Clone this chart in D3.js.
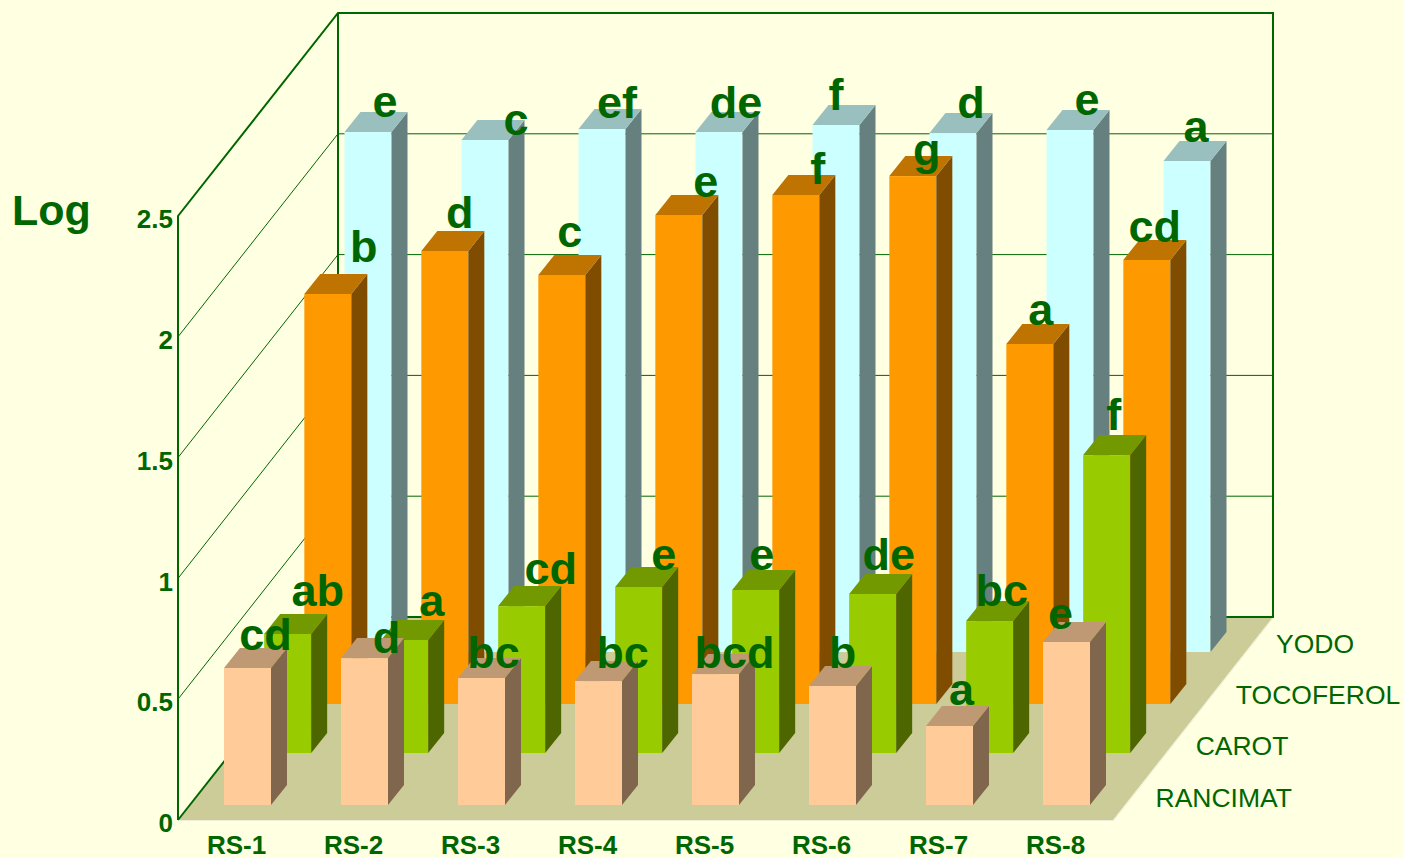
<!DOCTYPE html>
<html>
<head>
<meta charset="utf-8">
<script src="https://cdn.jsdelivr.net/npm/d3@7"></script>
<style>
  html, body { margin: 0; padding: 0; background: #FFFFE1; }
  svg { display: block; font-family: "Liberation Sans", Arial, sans-serif; }
</style>
</head>
<body>
<div id="chart"></div>
<script>
const w = 1403;
const h = 858;

const categories = ['RS-1', 'RS-2', 'RS-3', 'RS-4', 'RS-5', 'RS-6', 'RS-7', 'RS-8'];
const seriesNames = ['RANCIMAT', 'CAROT', 'TOCOFEROL', 'YODO'];
const yTicks = [0, 0.5, 1, 1.5, 2, 2.5];

const rancimat = [0.567, 0.608, 0.526, 0.513, 0.542, 0.493, 0.327, 0.675];
const carot = [0.493, 0.468, 0.608, 0.687, 0.675, 0.658, 0.546, 1.233];
const tocoferol = [1.697, 1.875, 1.776, 2.024, 2.107, 2.185, 1.490, 1.838];
const yodo = [2.152, 2.119, 2.165, 2.152, 2.181, 2.148, 2.161, 2.032];

const rancimatLetters = ['cd', 'd', 'bc', 'bc', 'bcd', 'b', 'a', 'e'];
const carotLetters = ['ab', 'a', 'cd', 'e', 'e', 'de', 'bc', 'f'];
const tocoferolLetters = ['b', 'd', 'c', 'e', 'f', 'g', 'a', 'cd'];
const yodoLetters = ['e', 'c', 'ef', 'de', 'f', 'd', 'e', 'a'];

// hand placed letter offsets from the centre of each bar's top
const rancimatNudge = [[10, 2], [14, 15], [4, 10], [16, 7], [11, 14], [2, 2], [4, -1], [-14, 7]];
const carotNudge = [[22, -8], [19, -4], [21, -2], [17, 3], [-2, 0], [8, -4], [4, 5], [-1, -5]];
const tocoferolNudge = [[28, -12], [7, -3], [0, -8], [19, 2], [14, 9], [6, 9], [3, 1], [0, 2]];
const yodoNudge = [[9, 5], [23, 15], [7, 9], [9, 6], [-8, 5], [10, 5], [9, 5], [1, 1]];

const seriesRows = [
    { name: 'RANCIMAT', values: rancimat, letters: rancimatLetters, nudge: rancimatNudge, front: '#FFCC99', top: '#BF9973', side: '#80664D' },
    { name: 'CAROT', values: carot, letters: carotLetters, nudge: carotNudge, front: '#99CC00', top: '#739900', side: '#4D6600' },
    { name: 'TOCOFEROL', values: tocoferol, letters: tocoferolLetters, nudge: tocoferolNudge, front: '#FF9900', top: '#BF7300', side: '#804C00' },
    { name: 'YODO', values: yodo, letters: yodoLetters, nudge: yodoNudge, front: '#CCFFFF', top: '#99BFBF', side: '#668080' }
];

const green = '#006600';

// box corners on screen
const left = 178;
const bottom = 820;
const boxDx = 160;
const boxDy = 203;
const boxWidth = 935;

const barW = 47;
const sideDx = 16;
const sideDy = 20;
const rowGap = bottom - 805;

const yScale = d3.scaleLinear().domain([0, 2.5]).range([bottom, 216]);
const xScale = d3.scalePoint().domain(categories).range([224, 1043]);
const rowX = d3.scalePoint().domain(seriesNames).range([0, 120.5]);
const rowY = d3.scaleOrdinal().domain(seriesNames).range([0, 52, 101, 153]);
const nameY = d3.scalePoint().domain(seriesNames).range([806.5, 652.5]);

const barHeight = v => bottom - yScale(v);
const line = d3.line();

const svg = d3.select('#chart').append('svg')
    .attr('width', w)
    .attr('height', h);

// floor
svg.append('polygon')
    .attr('points', [[left, bottom], [left + boxDx, bottom - boxDy], [left + boxDx + boxWidth, bottom - boxDy], [left + boxWidth, bottom]].join(' '))
    .attr('fill', '#CCCC99');

svg.append('path')
    .attr('fill', 'none')
    .attr('stroke', '#EDEDD8')
    .attr('stroke-width', 1)
    .attr('d', line([[left + 2, bottom + 0.5], [left + boxWidth + 0.5, bottom + 0.5], [left + boxDx + boxWidth + 0.5, bottom - boxDy + 0.5]]));

// walls
const grid = svg.append('g').attr('fill', 'none').attr('stroke', green);

grid.selectAll('path.grid')
    .data(yTicks.slice(1, -1))
    .enter()
    .append('path')
    .attr('class', 'grid')
    .attr('stroke-width', 1)
    .attr('d', d => line([
        [left, yScale(d)],
        [left + boxDx, yScale(d) - boxDy],
        [left + boxDx + boxWidth, yScale(d) - boxDy]
    ]));

const topY = yScale(2.5);
grid.append('path')
    .attr('stroke-width', 2)
    .attr('d', line([
        [left, bottom], [left, topY], [left + boxDx, topY - boxDy],
        [left + boxDx + boxWidth, topY - boxDy], [left + boxDx + boxWidth, bottom - boxDy],
        [left + boxDx, bottom - boxDy], [left + boxDx, topY - boxDy]
    ]));
grid.append('path')
    .attr('stroke-width', 2)
    .attr('d', line([[left, bottom], [left + boxDx, bottom - boxDy]]));

// bars, back row first
const rows = svg.selectAll('g.row')
    .data(seriesRows.slice().reverse())
    .enter()
    .append('g')
    .attr('class', 'row')
    .attr('transform', d => `translate(${rowX(d.name)},${-rowY(d.name) - rowGap})`);

const bars = rows.selectAll('g.bar')
    .data(d => d.values.map((v, i) => ({ v, cat: categories[i], s: d })))
    .enter()
    .append('g')
    .attr('class', 'bar');

bars.append('rect')
    .attr('x', d => xScale(d.cat))
    .attr('y', d => yScale(d.v))
    .attr('width', barW)
    .attr('height', d => barHeight(d.v))
    .attr('fill', d => d.s.front);

bars.append('path')
    .attr('fill', d => d.s.side)
    .attr('d', d => {
        const x = xScale(d.cat) + barW;
        const y = yScale(d.v);
        return line([[x, y], [x + sideDx, y - sideDy], [x + sideDx, bottom - sideDy], [x, bottom]]) + 'Z';
    });

bars.append('path')
    .attr('fill', d => d.s.top)
    .attr('d', d => {
        const x = xScale(d.cat);
        const y = yScale(d.v);
        return line([[x, y], [x + sideDx, y - sideDy], [x + barW + sideDx, y - sideDy], [x + barW, y]]) + 'Z';
    });

// significance letters sit above every bar
const letters = seriesRows.flatMap(s => s.letters.map((t, i) => ({ t, i, s })));

svg.append('g').selectAll('text')
    .data(letters.slice().reverse())
    .enter()
    .append('text')
    .attr('x', d => xScale(categories[d.i]) + rowX(d.s.name) + barW / 2 + sideDx / 2 + d.s.nudge[d.i][0])
    .attr('y', d => yScale(d.s.values[d.i]) - rowGap - rowY(d.s.name) - sideDy + d.s.nudge[d.i][1])
    .attr('text-anchor', 'middle')
    .attr('font-size', 45)
    .attr('font-weight', 'bold')
    .attr('fill', green)
    .text(d => d.t);

// axes
const yAxis = d3.axisLeft(yScale)
    .tickValues(yTicks)
    .tickFormat(d3.format('~g'))
    .tickSize(0)
    .tickPadding(5);

const yG = svg.append('g')
    .attr('transform', `translate(${left},0)`)
    .call(yAxis);
yG.select('.domain').remove();
yG.selectAll('text')
    .attr('dy', '0.45em')
    .attr('font-size', 26)
    .attr('font-weight', 'bold')
    .attr('font-family', 'inherit')
    .attr('fill', green);

const xAxis = d3.axisBottom(xScale)
    .tickSize(0)
    .tickPadding(16);

const xG = svg.append('g')
    .attr('transform', `translate(12,${bottom})`)
    .call(xAxis);
xG.select('.domain').remove();
xG.selectAll('text')
    .attr('font-size', 26)
    .attr('font-weight', 'bold')
    .attr('font-family', 'inherit')
    .attr('fill', green);

// series names along the right floor edge
svg.append('g').selectAll('text')
    .data(seriesNames)
    .enter()
    .append('text')
    .attr('x', d => 1155.5 + rowX(d))
    .attr('y', d => nameY(d))
    .attr('font-size', 26.5)
    .attr('fill', green)
    .text(d => d);

svg.append('text')
    .attr('x', 12)
    .attr('y', 225)
    .attr('font-size', 43)
    .attr('font-weight', 'bold')
    .attr('fill', green)
    .text('Log');
</script>
</body>
</html>
